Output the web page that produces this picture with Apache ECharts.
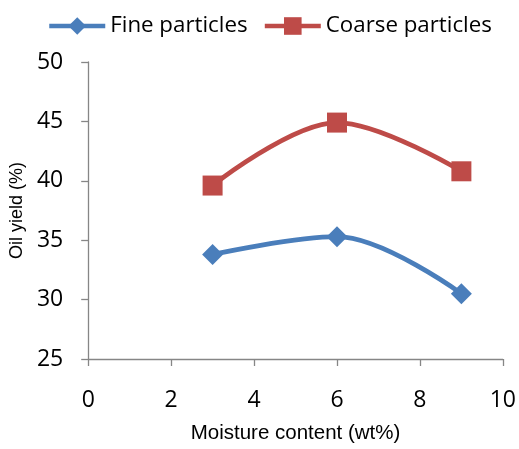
<!DOCTYPE html>
<html>
<head>
<meta charset="utf-8">
<script src="https://cdn.jsdelivr.net/npm/echarts@6/dist/echarts.min.js"></script>
<style>html,body{margin:0;padding:0;background:#fff}#c{width:519px;height:449px}</style>
</head>
<body>
<div id="c"></div>
<script>
var moisture = [3, 6, 9];
var fineParticles = [33.8, 35.3, 30.5];
var coarseParticles = [39.6, 44.9, 40.8];
var seriesNames = ['Fine particles', 'Coarse particles'];

var FONT = 'Open Sans';
var TITLE_FONT = 'Liberation Sans';
function pairs(xs, ys) { return xs.map(function (x, i) { return [x, ys[i]]; }); }

var chart = echarts.init(document.getElementById('c'));
chart.setOption({
  backgroundColor: '#fff',
  animation: false,
  legend: {
    top: 10,
    left: 42,
    itemWidth: 56,
    itemHeight: 22,
    itemGap: 15,
    lineStyle: { width: 4.5 },
    textStyle: { fontFamily: FONT, fontSize: 22.3, color: '#000' },
    data: seriesNames
  },
  grid: { left: 87, right: 16, top: 62, bottom: 87 },
  xAxis: {
    type: 'value', min: 0, max: 10, interval: 2,
    name: 'Moisture content (wt%)', nameLocation: 'middle', nameGap: 64,
    nameTextStyle: { fontFamily: TITLE_FONT, fontSize: 20.5, color: '#000' },
    axisLine: { show: true, lineStyle: { color: '#868686', width: 1.3 } },
    axisTick: { show: true, length: 7, lineStyle: { color: '#868686', width: 1.3 } },
    axisLabel: { fontFamily: FONT, fontSize: 23, color: '#000', margin: 30 },
    splitLine: { show: false }
  },
  yAxis: {
    type: 'value', min: 25, max: 50, interval: 5,
    name: 'Oil yield (%)', nameLocation: 'middle', nameGap: 56,
    nameTextStyle: { fontFamily: TITLE_FONT, fontSize: 18, color: '#000' },
    axisLine: { show: true, lineStyle: { color: '#868686', width: 1.3 } },
    axisTick: { show: true, length: 7, lineStyle: { color: '#868686', width: 1.3 } },
    axisLabel: { fontFamily: FONT, fontSize: 23, color: '#000', margin: 25 },
    splitLine: { show: false }
  },
  series: [
    {
      name: seriesNames[0], type: 'line', smooth: 0.35,
      data: pairs(moisture, fineParticles),
      symbol: 'diamond', symbolSize: 21,
      lineStyle: { color: '#4A7EBB', width: 4.8 },
      itemStyle: { color: '#4A7EBB' }
    },
    {
      name: seriesNames[1], type: 'line', smooth: 0.35,
      data: pairs(moisture, coarseParticles),
      symbol: 'rect', symbolSize: 20,
      lineStyle: { color: '#BE4B48', width: 4.8 },
      itemStyle: { color: '#BE4B48' }
    }
  ]
});
</script>
</body>
</html>
